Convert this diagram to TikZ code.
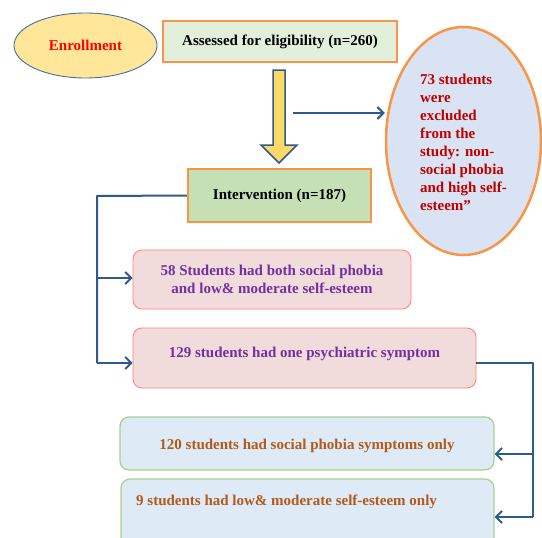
\documentclass[tikz,border=0pt]{standalone}
\usepackage{fontspec}
\setmainfont{Liberation Serif}
\usetikzlibrary{arrows.meta,shapes.geometric,calc}
\definecolor{orangeb}{HTML}{F79646}
\definecolor{lineblue}{HTML}{2E5A8C}
\definecolor{ellblue}{HTML}{41719C}
\definecolor{yellowf}{HTML}{FFE699}
\definecolor{arrowf}{HTML}{FFD966}
\definecolor{greenA}{HTML}{E2EFDA}
\definecolor{greenB}{HTML}{C5E0B4}
\definecolor{blueL}{HTML}{DAE3F3}
\definecolor{pinkf}{HTML}{F2DCDB}
\definecolor{pinkb}{HTML}{FF8080}
\definecolor{bluef}{HTML}{DEEAF6}
\definecolor{greenb}{HTML}{A9D18E}
\definecolor{darkred}{HTML}{C00000}
\definecolor{purpleT}{HTML}{7030A0}
\definecolor{brownT}{HTML}{B35A1A}
\tikzset{
  obox/.style={draw=orangeb, line width=2.5pt, rectangle, inner sep=0pt},
  pbox/.style={draw=pinkb, fill=pinkf, line width=0.8pt, rounded corners=9pt, inner sep=0pt, text=purpleT, align=center},
  gbox/.style={draw=greenb, fill=bluef, line width=1.2pt, rounded corners=9pt, inner sep=0pt, text=brownT},
  conn/.style={draw=lineblue, line width=2pt},
  arr/.style={conn, -{Straight Barb[length=6pt,width=12pt,line width=2pt]}},
}
\begin{document}
\begin{tikzpicture}[x=1pt,y=-1pt, font=\fontsize{15}{18}\selectfont\bfseries]
\useasboundingbox (0,0) rectangle (542,538);
% enrollment
\node[ellipse, draw=ellblue, line width=0.9pt, fill=yellowf, minimum width=143pt, minimum height=65pt, text=red] (enr) at (85.5,45.5) {Enrollment};
% assessed
\node[obox, fill=greenA, minimum width=234pt, minimum height=41pt] (ass) at (280,41.5) {Assessed for eligibility (n=260)};
% big arrow
\draw[draw=lineblue, line width=1.5pt, fill=arrowf, line join=miter]
  (273,70) -- (285,70) -- (285,145) -- (297,145) -- (279,163) -- (261,145) -- (273,145) -- cycle;
% exclusion ellipse
\node[ellipse, draw=orangeb, line width=2.5pt, fill=blueL, minimum width=155pt, minimum height=228pt, inner sep=0pt] (exc) at (463.5,141) {};
\node[text=darkred, align=left, inner sep=0pt] (exct) at (463.5,142.5) {73 students\\were\\excluded\\from the\\study: non-\\social phobia\\and high self-\\esteem”};
\coordinate (sa) at (293,113);
\draw[arr, line width=1.5pt] (sa) -- (exc.west |- sa);
% intervention
\node[obox, fill=greenB, minimum width=183pt, minimum height=53pt] (int) at (279.5,195.5) {Intervention (n=187)};
% pink boxes
\node[pbox, minimum width=278pt, minimum height=59pt] (b58) at (272,279.5) {58 Students had both social phobia\\and low\& moderate self-esteem};
\node[pbox, minimum width=343pt, minimum height=60pt] (b129) at (304.5,358) {};
\node[text=purpleT, inner sep=0pt] (t129) at (304.5,353.5) {129 students had one psychiatric symptom};
% blue boxes
\node[gbox, minimum width=374pt, minimum height=53pt] (b120) at (307,443.5) {};
\node[text=brownT, inner sep=0pt] (t120) at (307,446) {120 students had social phobia symptoms only};
\node[gbox, minimum width=373pt, minimum height=80pt] (b9) at (307.5,519) {};
\node[text=brownT, inner sep=0pt, anchor=west] (t9) at (136,502) {9 students had low\& moderate self-esteem only};
% left connectors
\coordinate (L1) at (97,196);
\coordinate (L2) at (97,363);
\coordinate (L3) at (97,278);
\draw[conn, line join=round] (int.west) -- (L1) -- (L2);
\draw[arr] (L3) -- (b58.west |- L3);
\draw[arr] (L2) -- (b129.west |- L2);
% right connectors
\coordinate (R0) at (b129.east |- 0,363);
\coordinate (R1) at (533,363);
\coordinate (R2) at (533,454);
\coordinate (R3) at (533,517);
\draw[conn, line join=round] (R0) -- (R1) -- (R3);
\draw[arr] (R2) -- (b120.east |- R2);
\draw[arr] (R3) -- (b9.east |- R3);
\end{tikzpicture}
\end{document}
